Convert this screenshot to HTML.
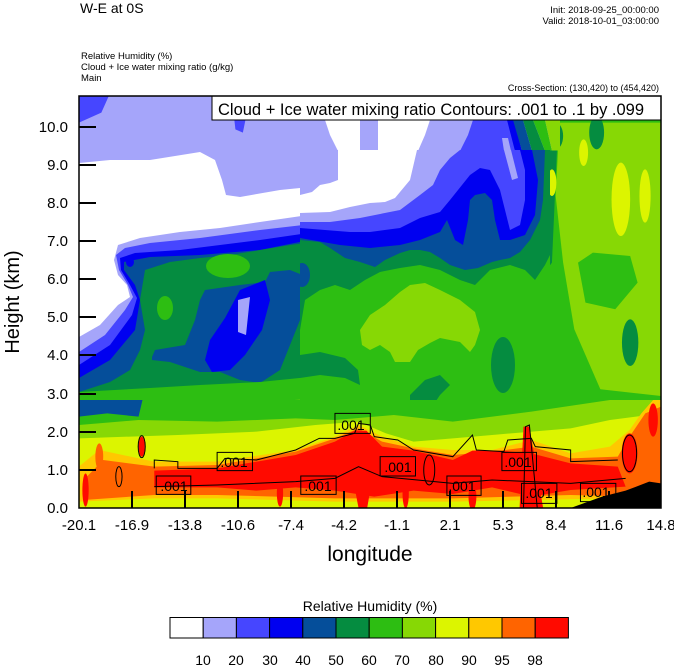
<!DOCTYPE html>
<html><head><meta charset="utf-8"><style>
body{margin:0;background:#fff;}
svg{display:block;font-family:"Liberation Sans",sans-serif;}
</style></head><body>
<svg width="674" height="667" viewBox="0 0 674 667" xmlns="http://www.w3.org/2000/svg">
<defs><clipPath id="pc"><rect x="79" y="96" width="582" height="412"/></clipPath>
<clipPath id="lc"><rect x="79" y="150" width="250" height="250"/></clipPath>
<clipPath id="mc"><rect x="300" y="150" width="250" height="250"/></clipPath>
<clipPath id="tc"><rect x="300" y="120" width="260" height="30.5"/></clipPath></defs>
<g clip-path="url(#pc)">
<rect x="79" y="96" width="582" height="412" fill="#2dbe12"/>
<g transform="translate(79,96) scale(0.3724,0.3333)">
 <polygon fill="#a5a5fa" points="0,0 1210,0 1230,400 1100,460 600,480 100,520 0,880"/>
 <polygon fill="#4646ff" points="0,0 80,0 60,50 0,80"/>
 <polygon fill="#4646ff" points="410,0 460,0 440,110 420,100"/>
 <polygon fill="#fff" points="0,200 150,190 250,170 330,185 380,260 450,270 600,230 700,220 680,110 660,80 960,80 900,150 880,300 820,330 700,340 520,350 400,400 300,410 150,440 100,460 100,580 150,600 100,680 0,730"/>
 <polygon fill="#4646ff" points="0,780 100,650 95,470 160,440 300,415 500,385 700,375 940,340 980,240 1060,200 1130,110 1140,0 1250,0 1250,540 600,570 0,900"/>
 <polygon fill="#0000f0" points="0,810 110,650 110,480 300,445 500,410 700,400 960,370 1000,290 1060,230 1150,170 1180,80 1180,0 1250,0 1250,540 0,900"/>
 <polygon fill="#054e9a" points="0,850 130,640 130,500 300,475 500,435 700,425 950,425 990,360 1060,290 1120,300 1180,200 1200,100 1215,0 1250,0 1250,540 0,920"/>
 <polygon fill="#058c40" points="0,900 100,760 160,520 300,500 500,480 540,450 700,450 900,450 1000,440 1080,515 1140,460 1210,440 1240,300 1245,0 1290,0 1270,500 1230,560 1100,530 980,545 800,565 640,600 600,700 650,780 700,830 500,850 300,870 150,880 0,905"/>
 <polygon fill="#87d805" points="1290,80 1563,80 1563,900 1400,880 1330,700 1300,500 1280,300"/>
 <polygon fill="#2dbe12" points="1340,500 1380,470 1480,480 1500,560 1440,640 1360,620"/>
 <ellipse fill="#058c40" cx="1480" cy="740" rx="22" ry="70"/>
 <ellipse fill="#058c40" cx="1280" cy="120" rx="20" ry="40"/>
 <ellipse fill="#058c40" cx="1390" cy="110" rx="20" ry="50"/>
 <ellipse fill="#dcf500" cx="1455" cy="310" rx="25" ry="110"/>
 <ellipse fill="#dcf500" cx="1520" cy="300" rx="15" ry="80"/>
 <ellipse fill="#dcf500" cx="1355" cy="170" rx="12" ry="40"/>
 <ellipse fill="#dcf500" cx="1270" cy="260" rx="12" ry="40"/>
</g>
<g clip-path="url(#tc)">
 <rect x="300" y="120" width="260" height="31" fill="#a5a5fa"/>
 <polygon fill="#fff" points="325,120 360,120 360,151 338,151 330,135"/>
 <polygon fill="#fff" points="378,120 430,120 425,135 418,151 378,151"/>
 <polygon fill="#4646ff" points="473,120 510,120 515,151 460,151 468,135"/>
 <polygon fill="#a5a5fa" points="502,138 508,138 511,151 504,151"/>
 <polygon fill="#0000f0" points="507,120 514,120 522,151 515,151"/>
 <polygon fill="#054e9a" points="513,120 523,120 532,151 522,151"/>
 <polygon fill="#058c40" points="523,120 533,120 545,151 532,151"/>
 <polygon fill="#2dbe12" points="533,120 545,120 552,151 545,151"/>
 <polygon fill="#87d805" points="545,120 560,120 560,151 552,151"/>
</g>
<g clip-path="url(#lc)">
 <rect x="79" y="150" width="250" height="250" fill="#a5a5fa"/>
 <polygon fill="#fff" points="79,163 110,160 150,160 200,152 215,160 222,180 226,195 240,197 280,190 300,188 329,185 329,212 260,222 220,228 180,232 140,238 118,245 114,260 118,275 127,285 130,297 118,305 100,325 79,337"/>
 <polygon fill="#4646ff" points="79,352 105,335 125,310 133,297 128,285 119,270 116,255 125,248 150,243 200,238 260,230 329,222 329,430 79,430"/>
 <polygon fill="#0000f0" points="79,365 110,345 132,315 137,298 130,285 121,270 120,258 135,253 180,250 260,240 329,230 329,430 79,430"/>
 <polygon fill="#054e9a" points="79,378 110,360 135,330 140,300 135,285 124,270 124,262 150,257 200,255 260,250 329,236 329,430 79,430"/>
 <ellipse fill="#0000f0" cx="130" cy="262" rx="4" ry="5"/>
 <polygon fill="#058c40" points="79,392 110,382 130,370 140,350 145,330 140,300 145,270 170,262 200,258 230,255 260,250 290,245 329,240 329,430 79,430"/>
 <polygon fill="#054e9a" points="152,357 155,350 185,345 195,320 200,300 205,290 240,285 265,282 270,272 290,270 310,278 305,300 300,320 290,345 280,370 260,383 240,380 220,372 200,372 170,362 152,360"/>
 <ellipse fill="#2dbe12" cx="228" cy="266" rx="22" ry="12"/>
 <ellipse fill="#2dbe12" cx="165" cy="308" rx="8" ry="12"/>
 <polygon fill="#0000f0" points="205,360 210,340 225,318 240,290 265,280 270,300 262,330 245,355 230,370 212,372"/>
 <polygon fill="#a5a5fa" points="238,300 250,297 246,335 238,332"/>
 <polygon fill="#2dbe12" points="79,392 150,388 200,385 260,382 329,375 329,430 79,430"/>
 <polygon fill="#054e9a" points="79,403 120,403 125,412 79,418"/>
 <polygon fill="#87d805" points="212,405 260,402 329,398 329,430 212,430"/>
</g>
<g clip-path="url(#mc)">
 <rect x="300" y="150" width="250" height="250" fill="#a5a5fa"/>
 <polygon fill="#fff" points="300,195 312,192 320,185 330,183 338,180 338,150 417,150 410,180 395,198 385,202 370,203 350,207 330,212 300,213"/>
 <polygon fill="#4646ff" points="300,222 330,222 360,218 400,210 420,195 433,185 440,170 450,158 460,150 550,150 550,400 300,400"/>
 <polygon fill="#a5a5fa" points="504,150 511,150 518,178 512,180"/>
 <polygon fill="#0000f0" points="300,228 350,232 370,232 400,228 420,218 440,212 450,200 470,175 480,168 490,170 500,190 505,210 510,230 520,225 525,200 525,170 520,150 550,150 550,400 300,400"/>
 <polygon fill="#054e9a" points="300,238 340,245 370,248 400,245 420,240 440,232 447,220 455,240 463,245 468,220 470,200 475,195 485,193 492,200 495,220 500,240 510,240 525,235 535,215 538,180 532,150 550,150 550,400 300,400"/>
 <polygon fill="#058c40" points="300,240 320,242 330,248 345,258 360,262 375,267 385,260 400,253 410,250 420,250 430,252 440,258 450,265 465,270 478,268 485,265 492,262 500,260 510,258 520,252 530,240 540,220 543,200 545,150 550,150 550,400 300,400"/>
 <ellipse fill="#054e9a" cx="302" cy="275" rx="8" ry="12"/>
 <polygon fill="#2dbe12" points="300,330 305,300 320,290 335,285 350,290 365,280 380,272 400,268 420,265 440,270 460,280 475,285 490,270 510,265 525,270 535,280 545,265 550,255 550,400 300,400"/>
 <polygon fill="#87d805" points="360,330 370,315 385,305 400,292 410,285 425,283 440,290 460,300 475,312 480,330 475,345 470,352 460,342 440,338 430,343 418,350 410,362 395,362 390,352 380,345 370,350 362,345"/>
 <ellipse fill="#058c40" cx="503" cy="365" rx="12" ry="28"/>
 <polygon fill="#058c40" points="300,355 320,352 345,358 358,370 360,385 345,378 320,375 300,378"/>
 <polygon fill="#058c40" points="410,395 425,380 440,375 450,385 440,395 430,410 420,420 410,415"/>
</g>
<g transform="translate(60,400) scale(0.3928,0.3333)">
 <polygon fill="#054e9a" points="48,0 210,0 200,50 120,40 48,50"/>
 <polygon fill="#87d805" points="48,75 200,60 400,65 600,55 700,60 850,45 1000,65 1200,35 1400,0 1530,0 1530,324 48,324"/>
 <polygon fill="#dcf500" points="48,115 300,105 500,95 650,75 760,65 830,100 900,125 1000,115 1100,105 1300,85 1400,60 1530,40 1530,324 48,324"/>
 <polygon fill="#ffc800" points="48,200 100,150 240,185 400,185 600,150 700,110 760,75 820,110 900,140 1000,150 1100,150 1200,120 1300,160 1400,140 1450,90 1480,40 1510,0 1530,0 1530,324 1450,300 1400,295 1000,305 700,305 400,295 240,295 48,305"/>
 <polygon fill="#ff6400" points="60,240 110,180 240,200 400,195 600,155 700,115 760,85 820,125 900,145 1000,165 1100,155 1200,140 1300,175 1420,170 1450,110 1490,40 1530,20 1530,324 1460,290 1300,285 1000,295 700,295 400,285 240,285 60,300"/>
 <polygon fill="#ff0a00" points="240,212 400,205 600,165 700,125 750,92 780,92 820,140 900,152 1000,180 1050,152 1120,152 1200,160 1300,190 1420,200 1440,260 1300,270 1200,290 1100,262 1000,282 900,272 800,290 700,272 600,262 500,272 400,262 240,262"/>
 <polygon fill="#ff0a00" points="740,200 760,324 782,324 800,200"/>
 <polygon fill="#ff0a00" points="1180,80 1195,80 1230,324 1170,324"/>
 <ellipse fill="#ff0a00" cx="1450" cy="160" rx="20" ry="60"/>
 <ellipse fill="#ff0a00" cx="1510" cy="60" rx="12" ry="50"/>
 <ellipse fill="#ff0a00" cx="208" cy="140" rx="8" ry="30"/>
 <ellipse fill="#ff6400" cx="100" cy="170" rx="10" ry="40"/>
 <ellipse fill="#ff0a00" cx="65" cy="270" rx="8" ry="50"/>
 <ellipse fill="#ff0a00" cx="560" cy="280" rx="8" ry="40"/>
 <ellipse fill="#ff0a00" cx="880" cy="280" rx="8" ry="45"/>
 <ellipse fill="#ff0a00" cx="1050" cy="290" rx="10" ry="40"/>
 <polygon fill="#000" points="1300,324 1380,290 1440,272 1500,245 1530,250 1530,324"/>
 <g fill="none" stroke="#000" stroke-width="1">
  <polyline vector-effect="non-scaling-stroke" points="240,205 240,180 300,185 300,205 400,205 420,175 500,180 600,150 660,115 700,115 750,100 760,70 790,75 800,110 860,120 900,150 1000,170 1050,105 1060,150 1130,155 1140,120 1200,115 1210,140 1300,150 1300,185 1420,180"/>
  <polyline vector-effect="non-scaling-stroke" points="240,260 400,255 600,245 700,235 760,200 820,230 1000,250 1100,240 1300,250 1440,235"/>
  <ellipse vector-effect="non-scaling-stroke" cx="208" cy="140" rx="9" ry="33"/>
  <ellipse vector-effect="non-scaling-stroke" cx="1450" cy="160" rx="18" ry="55"/>
  <ellipse vector-effect="non-scaling-stroke" cx="940" cy="210" rx="14" ry="45"/>
  <ellipse vector-effect="non-scaling-stroke" cx="150" cy="230" rx="8" ry="30"/>
  <polyline vector-effect="non-scaling-stroke" points="1180,324 1185,80 1195,75 1215,324"/>
  <rect vector-effect="non-scaling-stroke" x="700" y="40" width="90" height="60"/>
  <rect vector-effect="non-scaling-stroke" x="400" y="157" width="90" height="55"/>
  <rect vector-effect="non-scaling-stroke" x="245" y="228" width="88" height="55"/>
  <rect vector-effect="non-scaling-stroke" x="815" y="170" width="90" height="58"/>
  <rect vector-effect="non-scaling-stroke" x="613" y="228" width="90" height="55"/>
  <rect vector-effect="non-scaling-stroke" x="985" y="228" width="87" height="58"/>
  <rect vector-effect="non-scaling-stroke" x="1125" y="157" width="88" height="55"/>
  <rect vector-effect="non-scaling-stroke" x="1175" y="250" width="90" height="60"/>
  <rect vector-effect="non-scaling-stroke" x="1325" y="250" width="90" height="55"/>
 </g>
</g>
<g font-size="14" text-anchor="middle" fill="#000">
 <text x="351" y="430">.001</text>
 <text x="234" y="467">.001</text>
 <text x="174" y="491">.001</text>
 <text x="398" y="472">.001</text>
 <text x="318" y="491">.001</text>
 <text x="462" y="491">.001</text>
 <text x="518" y="467">.001</text>
 <text x="539" y="498">.001</text>
 <text x="596" y="497">.001</text>
</g>
<g stroke="#000" stroke-width="2">
 <path d="M79,127h17M79,165h17M79,203h17M79,241h17M79,279h17M79,317h17M79,355h17M79,394h17M79,432h17M79,470h17"/>
 <path d="M132,508v-17M185,508v-17M238,508v-17M291,508v-17M344,508v-17M397,508v-17M450,508v-17M503,508v-17M556,508v-17M609,508v-17"/>
</g>
</g>
<rect x="212" y="96" width="449" height="24" fill="#fff" stroke="#000" stroke-width="1"/>
<text x="218" y="115" font-size="16.5">Cloud + Ice water mixing ratio Contours: .001 to .1 by .099</text>
<rect x="79" y="96" width="582" height="412" fill="none" stroke="#000" stroke-width="1.5"/>
<text x="80" y="13" font-size="14">W-E at 0S</text>
<g font-size="9.5" text-anchor="end">
 <text x="659" y="13">Init: 2018-09-25_00:00:00</text>
 <text x="659" y="24">Valid: 2018-10-01_03:00:00</text>
 <text x="659" y="91" font-size="9">Cross-Section: (130,420) to (454,420)</text>
</g>
<g font-size="9.5">
 <text x="81" y="59">Relative Humidity   (%)</text>
 <text x="81" y="70">Cloud + Ice water mixing ratio   (g/kg)</text>
 <text x="81" y="81">Main</text>
</g>
<g font-size="15" text-anchor="end">
 <text x="68" y="513">0.0</text><text x="68" y="475">1.0</text><text x="68" y="437">2.0</text>
 <text x="68" y="399">3.0</text><text x="68" y="360">4.0</text><text x="68" y="322">5.0</text>
 <text x="68" y="284">6.0</text><text x="68" y="246">7.0</text><text x="68" y="208">8.0</text>
 <text x="68" y="170">9.0</text><text x="68" y="132">10.0</text>
</g>
<g font-size="15" text-anchor="middle">
 <text x="79" y="530">-20.1</text><text x="132" y="530">-16.9</text><text x="185" y="530">-13.8</text>
 <text x="238" y="530">-10.6</text><text x="291" y="530">-7.4</text><text x="344" y="530">-4.2</text>
 <text x="397" y="530">-1.1</text><text x="450" y="530">2.1</text><text x="503" y="530">5.3</text>
 <text x="556" y="530">8.4</text><text x="609" y="530">11.6</text><text x="661" y="530">14.8</text>
</g>
<text x="370" y="561" font-size="21" text-anchor="middle">longitude</text>
<text transform="translate(19,302) rotate(-90)" font-size="20" text-anchor="middle">Height (km)</text>
<text x="370" y="611" font-size="14" text-anchor="middle">Relative Humidity  (%)</text>
<g stroke="#000" stroke-width="1">
 <rect x="170" y="617.5" width="33.2" height="20.5" fill="#fff"/>
 <rect x="203.2" y="617.5" width="33.2" height="20.5" fill="#a5a5fa"/>
 <rect x="236.4" y="617.5" width="33.2" height="20.5" fill="#4646ff"/>
 <rect x="269.6" y="617.5" width="33.2" height="20.5" fill="#0000f0"/>
 <rect x="302.8" y="617.5" width="33.2" height="20.5" fill="#054e9a"/>
 <rect x="336" y="617.5" width="33.2" height="20.5" fill="#058c40"/>
 <rect x="369.2" y="617.5" width="33.2" height="20.5" fill="#2dbe12"/>
 <rect x="402.4" y="617.5" width="33.2" height="20.5" fill="#87d805"/>
 <rect x="435.6" y="617.5" width="33.2" height="20.5" fill="#dcf500"/>
 <rect x="468.8" y="617.5" width="33.2" height="20.5" fill="#ffc800"/>
 <rect x="502" y="617.5" width="33.2" height="20.5" fill="#ff6400"/>
 <rect x="535.2" y="617.5" width="33.2" height="20.5" fill="#ff0a00"/>
</g>
<g font-size="14" text-anchor="middle">
 <text x="203" y="665">10</text><text x="236" y="665">20</text><text x="270" y="665">30</text>
 <text x="303" y="665">40</text><text x="336" y="665">50</text><text x="369" y="665">60</text>
 <text x="402" y="665">70</text><text x="436" y="665">80</text><text x="469" y="665">90</text>
 <text x="502" y="665">95</text><text x="535" y="665">98</text>
</g>
</svg>
</body></html>
